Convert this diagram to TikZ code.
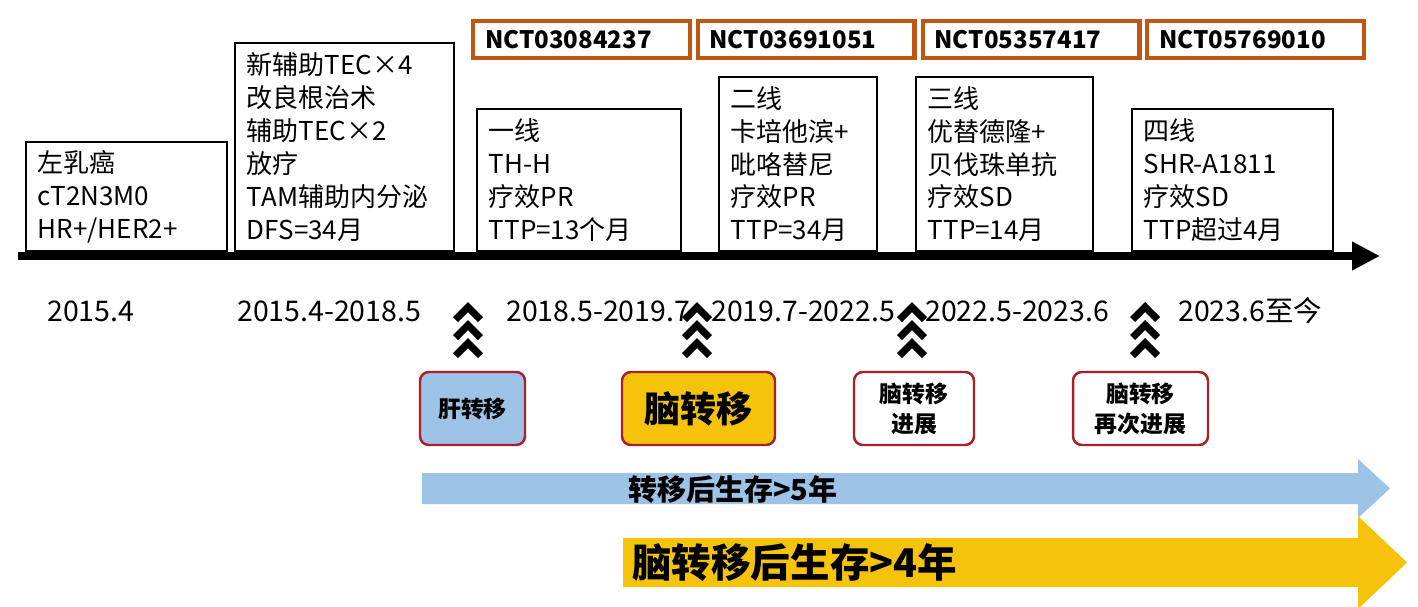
\documentclass[tikz,border=0pt]{standalone}
\usepackage{fontspec}
\setmainfont{Noto Sans CJK SC}
\usepackage{xcolor}
\usepackage{tikz}
\usetikzlibrary{arrows.meta}

\definecolor{trialorange}{RGB}{192,86,20}
\definecolor{eventred}{RGB}{168,32,42}
\definecolor{liverblue}{RGB}{157,195,230}
\definecolor{braingold}{RGB}{245,195,10}

\tikzset{
  linebox/.style={draw=black, line width=1pt, fill=white, inner xsep=0.24cm,
    align=left, anchor=south west, font=\fontsize{14.8pt}{18.7pt}\selectfont},
  trialbox/.style={draw=trialorange, line width=2.3pt, inner xsep=0.24cm,
    text width=3.86cm, minimum height=0.74cm, align=left,
    font=\bfseries\fontsize{13.7pt}{16pt}\selectfont},
  eventbox/.style={draw=eventred, line width=1.4pt, rounded corners=5pt,
    minimum height=1.46cm, align=center,
    font=\bfseries\fontsize{13pt}{17pt}\selectfont},
  datelabel/.style={anchor=west, inner sep=0pt,
    font=\fontsize{16.2pt}{18pt}\selectfont},
}

\begin{document}
\begin{tikzpicture}[x=0.02cm, y=-0.02cm]
\useasboundingbox[fill=white] (0,0) rectangle (1418,606);

% time axis
\coordinate (axisstart) at (18,256);
\coordinate (axisend) at (1380,256);
\draw[line width=4.5pt, -{Triangle[length=0.56cm, width=0.54cm]}] (axisstart) -- (axisend);

% treatment boxes
\node[linebox, text width=3.54cm, minimum height=2.18cm] (diag) at (25,252)
  {左乳癌\\cT2N3M0\\HR+/HER2+};
\node[linebox, text width=3.90cm, minimum height=4.16cm] (adj) at (234,252)
  {新辅助TEC×4\\改良根治术\\辅助TEC×2\\放疗\\TAM辅助内分泌\\DFS=34月};
\node[linebox, text width=3.60cm, minimum height=2.84cm] (first) at (476,252)
  {一线\\TH-H\\疗效PR\\TTP=13个月};
\node[linebox, text width=2.68cm, minimum height=3.48cm] (second) at (718,252)
  {二线\\卡培他滨+\\吡咯替尼\\疗效PR\\TTP=34月};
\node[linebox, text width=3.06cm, minimum height=3.48cm] (third) at (915,252)
  {三线\\优替德隆+\\贝伐珠单抗\\疗效SD\\TTP=14月};
\node[linebox, text width=3.54cm, minimum height=2.84cm] (fourth) at (1131,252)
  {四线\\SHR-A1811\\疗效SD\\TTP超过4月};

% trial numbers
\node[trialbox] (nct1) at (581.5,39.5) {NCT03084237};
\node[trialbox] (nct2) at (806,39.5) {NCT03691051};
\node[trialbox] (nct3) at (1031,39.5) {NCT05357417};
\node[trialbox] (nct4) at (1255.5,39.5) {NCT05769010};

% dates
\node[datelabel] (d1) at (47,311) {2015.4};
\node[datelabel] (d2) at (237,311) {2015.4-2018.5};
\node[datelabel] (d3) at (506,311) {2018.5-2019.7};
\node[datelabel] (d4) at (711,311) {2019.7-2022.5};
\node[datelabel] (d5) at (925,311) {2022.5-2023.6};
\node[datelabel] (d6) at (1178,311) {2023.6至今};

% chevrons
\foreach \cx in {468,697,912,1145}
  \foreach \dy in {0,18,36}
    \fill[black] (\cx,302+\dy) -- ++(15,15) -- ++(-5,5) -- ++(-10,-10)
      -- ++(-10,10) -- ++(-5,-5) -- cycle;

% events
\node[eventbox, fill=liverblue, minimum width=2.1cm] (liver) at (472.5,408.5) {肝转移};
\node[eventbox, fill=braingold, minimum width=3.06cm,
  font=\bfseries\fontsize{20.5pt}{24pt}\selectfont] (brain) at (698.5,408.5) {脑转移};
\node[eventbox, fill=white, minimum width=2.4cm] (prog) at (914,408.5) {脑转移\\进展};
\node[eventbox, fill=white, minimum width=2.7cm] (reprog) at (1140.5,408.5) {脑转移\\再次进展};

% survival arrows
\fill[liverblue] (422,473) -- (1358,473) -- (1358,459) -- (1390,488.5)
  -- (1358,518) -- (1358,504) -- (422,504) -- cycle;
\node[anchor=west, inner sep=0pt, font=\bfseries\fontsize{16.5pt}{20pt}\selectfont]
  (os1) at (628,490) {转移后生存>5年};
\fill[braingold] (623,538) -- (1358,538) -- (1358,516) -- (1407,562.5)
  -- (1358,609) -- (1358,587) -- (623,587) -- cycle;
\node[anchor=west, inner sep=0pt, font=\bfseries\fontsize{22.5pt}{26pt}\selectfont]
  (os2) at (632,563) {脑转移后生存>4年};
\end{tikzpicture}
\end{document}
